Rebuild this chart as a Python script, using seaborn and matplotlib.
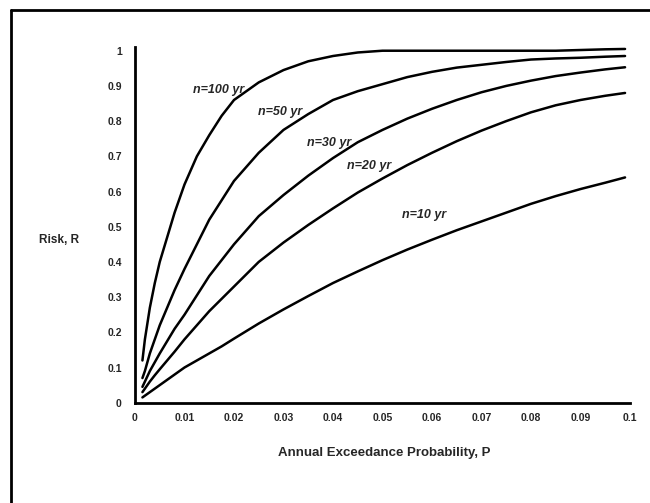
import matplotlib
matplotlib.use("Agg")
import matplotlib.pyplot as plt
from matplotlib.lines import Line2D
import seaborn as sns
import pandas as pd

# ---- data ----
P = [0.0015, 0.002, 0.003, 0.004, 0.005, 0.0065, 0.008, 0.01, 0.0125,
     0.015, 0.0175, 0.02, 0.025, 0.03, 0.035, 0.04, 0.045, 0.05, 0.055,
     0.06, 0.065, 0.07, 0.075, 0.08, 0.085, 0.09, 0.095, 0.099]
R_n100 = [0.12, 0.18, 0.27, 0.34, 0.40, 0.47, 0.54, 0.62, 0.70,
          0.76, 0.815, 0.86, 0.91, 0.945, 0.97, 0.985, 0.995, 1.0, 1.0,
          1.0, 1.0, 1.0, 1.0, 1.0, 1.0, 1.002, 1.004, 1.005]
R_n50 = [0.07, 0.09, 0.14, 0.18, 0.22, 0.27, 0.32, 0.38, 0.45,
         0.52, 0.575, 0.63, 0.71, 0.775, 0.82, 0.86, 0.885, 0.905, 0.925,
         0.94, 0.952, 0.96, 0.968, 0.975, 0.978, 0.98, 0.983, 0.985]
R_n30 = [0.045, 0.06, 0.09, 0.115, 0.14, 0.175, 0.21, 0.25, 0.305,
         0.36, 0.405, 0.45, 0.53, 0.59, 0.645, 0.695, 0.74, 0.775, 0.807,
         0.835, 0.86, 0.882, 0.90, 0.915, 0.928, 0.938, 0.947, 0.953]
R_n20 = [0.03, 0.04, 0.06, 0.078, 0.095, 0.12, 0.145, 0.18, 0.22,
         0.26, 0.295, 0.33, 0.40, 0.455, 0.505, 0.552, 0.597, 0.637, 0.675,
         0.71, 0.743, 0.773, 0.80, 0.825, 0.845, 0.86, 0.872, 0.88]
R_n10 = [0.015, 0.02, 0.03, 0.04, 0.05, 0.065, 0.08, 0.10, 0.12,
         0.14, 0.16, 0.182, 0.225, 0.265, 0.303, 0.34, 0.373, 0.405, 0.435,
         0.463, 0.49, 0.515, 0.54, 0.565, 0.587, 0.607, 0.625, 0.64]

series_names = ["n=100 yr", "n=50 yr", "n=30 yr", "n=20 yr", "n=10 yr"]
series_values = [R_n100, R_n50, R_n30, R_n20, R_n10]
label_pos = [(0.0117, 0.888), (0.0248, 0.826), (0.0347, 0.738),
             (0.0428, 0.673), (0.0539, 0.533)]

x_ticks = [0, 0.01, 0.02, 0.03, 0.04, 0.05, 0.06, 0.07, 0.08, 0.09, 0.1]
x_tick_labels = ["0", "0.01", "0.02", "0.03", "0.04", "0.05", "0.06",
                 "0.07", "0.08", "0.09", "0.1"]
y_ticks = [0, 0.1, 0.2, 0.3, 0.4, 0.5, 0.6, 0.7, 0.8, 0.9, 1.0]
y_tick_labels = ["0", "0.1", "0.2", "0.3", "0.4", "0.5", "0.6", "0.7",
                 "0.8", "0.9", "1"]

rows = []
for name, vals in zip(series_names, series_values):
    for p, r in zip(P, vals):
        rows.append({"P": p, "R": r, "n": name})
df = pd.DataFrame(rows)

sns.set_style("white")
plt.rcParams["font.family"] = ["Liberation Sans", "DejaVu Sans"]

fig = plt.figure(figsize=(6.5, 5.03), dpi=100)
ax = fig.add_axes([135 / 650, 1 - 402.7 / 503, (630 - 135) / 650, (402.7 - 47.2) / 503])

sns.lineplot(data=df, x="P", y="R", hue="n", palette=["black"] * 5,
             estimator=None, legend=False, linewidth=1.8, ax=ax)

ax.set_xlim(0, 0.1)
ax.set_ylim(0, 1.01)
ax.set_xticks(x_ticks)
ax.set_xticklabels(x_tick_labels, fontsize=7.5, fontweight="bold")
ax.set_yticks(y_ticks)
ax.set_yticklabels(y_tick_labels, fontsize=7.5, fontweight="bold")
ax.tick_params(direction="inout", length=7, width=1.5, color="black", pad=4)
ax.tick_params(axis="y", pad=6)

for s in ["top", "right"]:
    ax.spines[s].set_visible(False)
for s in ["left", "bottom"]:
    ax.spines[s].set_color("black")
    ax.spines[s].set_linewidth(2)

ax.set_xlabel("")
ax.set_ylabel("")

for name, (lx, ly) in zip(series_names, label_pos):
    ax.text(lx, ly, name, fontsize=9, fontstyle="italic", fontweight="bold",
            ha="left", va="center")

fig.text(59 / 650, 1 - 240 / 503, "Risk, R", fontsize=8.5, fontweight="bold",
         ha="center", va="center")
fig.text(384 / 650, 1 - 453 / 503, "Annual Exceedance Probability, P",
         fontsize=9.5, fontweight="bold", ha="center", va="center")

# outer frame (left and top edges)
fig.add_artist(Line2D([11 / 650, 11 / 650], [0, 1 - 10 / 503],
                      transform=fig.transFigure, color="black", linewidth=2))
fig.add_artist(Line2D([11 / 650, 1], [1 - 10 / 503, 1 - 10 / 503],
                      transform=fig.transFigure, color="black", linewidth=2))

fig.savefig("out.png", dpi=100, facecolor="white")
